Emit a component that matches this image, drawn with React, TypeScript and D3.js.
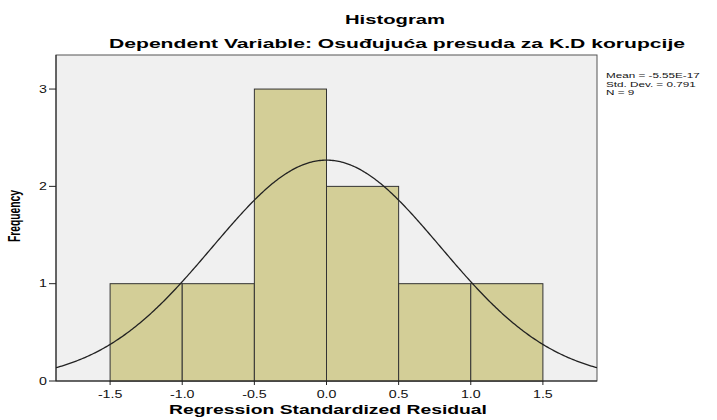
import React from "react";
import * as d3 from "d3";

const binStarts = [-1.5, -1.0, -0.5, 0.0, 0.5, 1.0];
const binWidth = 0.5;
const frequencies = [1, 1, 3, 2, 1, 1];
const xTicks = [-1.5, -1.0, -0.5, 0.0, 0.5, 1.0, 1.5];
const yTicks = [0, 1, 2, 3];
const statsLines = ["Mean = -5.55E-17", "Std. Dev. = 0.791", "N = 9"];
const mean = -5.55e-17;
const sd = 0.791;
const n = 9;

const font = "'Liberation Sans', Arial, sans-serif";
// the reference text is drawn wide, so every label is stretched sideways
const stretch = 1.42;

function WideText(props: {
  x: number;
  y: number;
  size: number;
  anchor?: string;
  bold?: boolean;
  sx?: number;
  children: React.ReactNode;
}) {
  const { x, y, size, anchor = "start", bold = false, sx = stretch, children } = props;
  return (
    <text
      transform={`translate(${x},${y}) scale(${sx},1)`}
      textAnchor={anchor}
      fontSize={size}
      fontWeight={bold ? "bold" : "normal"}
      fill="#111"
    >
      {children}
    </text>
  );
}

export default function App() {
  const width = 717;
  const height = 420;
  const margin = { top: 55, right: 120, bottom: 39, left: 56 };
  const innerW = width - margin.left - margin.right;
  const innerH = height - margin.top - margin.bottom;

  const x = d3.scaleLinear().domain([-1.875, 1.875]).range([0, innerW]);
  const y = d3.scaleLinear().domain([0, 3.35]).range([innerH, 0]);

  // normal curve scaled to counts
  const curvePts = d3.range(-1.875, 1.8751, 0.01).map((v) => [
    v,
    (n * binWidth) / (sd * Math.sqrt(2 * Math.PI)) * Math.exp(-0.5 * ((v - mean) / sd) ** 2),
  ]);
  const line = d3
    .line<number[]>()
    .x((d) => x(d[0]))
    .y((d) => y(d[1]));

  return (
    <svg width={width} height={height} style={{ position: "absolute", left: 0, top: 0, fontFamily: font }}>
      <rect width={width} height={height} fill="#ffffff" />
      <text x={395} y={24} textAnchor="middle" fontSize={13.5} fontWeight="bold"
        textLength={100} lengthAdjust="spacingAndGlyphs">Histogram</text>
      <text x={397} y={48} textAnchor="middle" fontSize={13.5} fontWeight="bold"
        textLength={576} lengthAdjust="spacingAndGlyphs">
        Dependent Variable: Osuđujuća presuda za K.D korupcije
      </text>
      <g transform={`translate(${margin.left},${margin.top})`}>
        <rect width={innerW} height={innerH} fill="#f0f0f0" stroke="#555" strokeWidth={1} />
        <defs>
          <clipPath id="plotclip">
            <rect width={innerW} height={innerH} />
          </clipPath>
        </defs>
        {binStarts.map((b, i) => (
          <rect
            key={i}
            x={x(b)}
            y={y(frequencies[i])}
            width={x(b + binWidth) - x(b)}
            height={innerH - y(frequencies[i])}
            fill="#d3ce97"
            stroke="#333"
            strokeWidth={1}
          />
        ))}
        <path d={line(curvePts) || ""} fill="none" stroke="#222" strokeWidth={1.3} clipPath="url(#plotclip)" />
        <line x1={0} x2={0} y1={0} y2={innerH} stroke="#222" />
        <line x1={0} x2={innerW} y1={innerH} y2={innerH} stroke="#222" />
        {xTicks.map((t) => (
          <g key={t}>
            <line x1={x(t)} x2={x(t)} y1={innerH} y2={innerH + 4} stroke="#222" />
            <WideText x={x(t)} y={innerH + 17} size={10} anchor="middle">{t.toFixed(1)}</WideText>
          </g>
        ))}
        {yTicks.map((t) => (
          <g key={t}>
            <line x1={-7} x2={0} y1={y(t)} y2={y(t)} stroke="#222" />
            <WideText x={-9} y={y(t) + 3.5} size={10} anchor="end">{t}</WideText>
          </g>
        ))}
      </g>
      <text
        transform={`translate(20,216) rotate(-90) scale(1,1.4)`}
        textAnchor="middle"
        fontSize={11.5}
        fontWeight="bold"
        textLength={52}
        lengthAdjust="spacingAndGlyphs"
      >
        Frequency
      </text>
      <text x={328} y={414} textAnchor="middle" fontSize={13.5} fontWeight="bold"
        textLength={318} lengthAdjust="spacingAndGlyphs">
        Regression Standardized Residual
      </text>
      {statsLines.map((s, i) => (
        <WideText key={i} x={606} y={78 + i * 8.5} size={7.4} sx={1.58}>{s}</WideText>
      ))}
    </svg>
  );
}
